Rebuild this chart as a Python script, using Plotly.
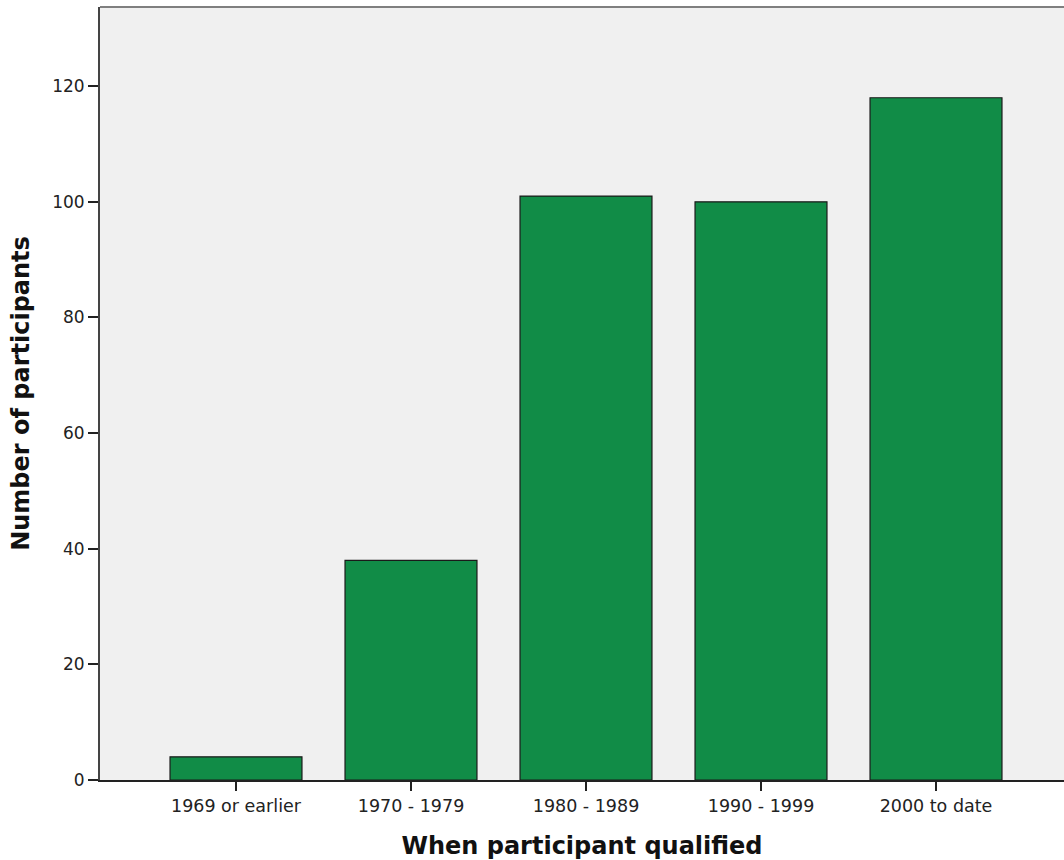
import plotly.graph_objects as go

categories = ["1969 or earlier", "1970 - 1979", "1980 - 1989", "1990 - 1999", "2000 to date"]
counts = [4, 38, 101, 100, 118]
y_ticks = [0, 20, 40, 60, 80, 100, 120]

fig = go.Figure(go.Bar(
    x=categories, y=counts,
    marker=dict(color="#118C47", line=dict(color="#1a1a1a", width=1.2)),
    width=0.754,
))

fig.update_layout(
    width=1064, height=860,
    margin=dict(l=100, r=0, t=7, b=80),
    paper_bgcolor="white", plot_bgcolor="#F0F0F0",
    font=dict(family="DejaVu Sans", color="#222222"),
    showlegend=False,
    xaxis=dict(
        range=[-0.7771, 4.7314], showgrid=False, zeroline=False,
        showline=True, linecolor="#222222", linewidth=1.5,
        ticks="outside", ticklen=9, tickcolor="#222222", tickwidth=1.5,
        tickfont=dict(size=17.5, color="#222222"),
        title=dict(text="<b>When participant qualified</b>", font=dict(size=24, color="#111111"), standoff=22),
    ),
    yaxis=dict(
        range=[0, 133.7], showgrid=False, zeroline=False,
        tickvals=y_ticks,
        showline=True, linecolor="#444444", linewidth=2,
        ticks="outside", ticklen=10, tickcolor="#222222", tickwidth=2,
        tickfont=dict(size=17, color="#222222"),
        title=dict(text="<b>Number of participants</b>", font=dict(size=24, color="#111111"), standoff=16),
    ),
)

fig.add_shape(type="line", xref="paper", yref="paper", x0=0, x1=1, y0=1, y1=1,
              line=dict(color="#7f7f7f", width=2))

fig.write_html(
    "out.html",
    config={"displayModeBar": False},
    post_script="document.body.style.margin='0';document.body.style.overflow='hidden';window.dispatchEvent(new Event('resize'));",
)
